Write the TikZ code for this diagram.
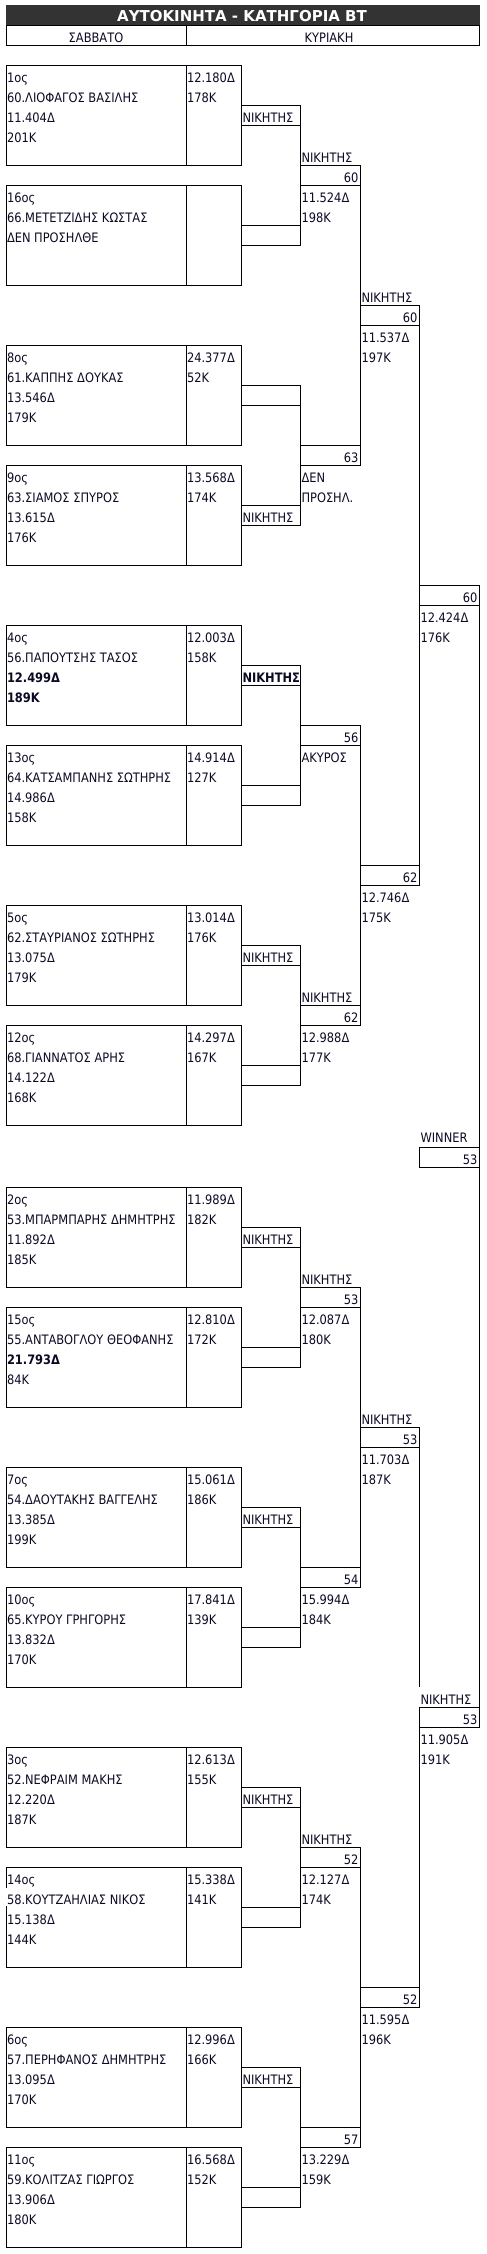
\documentclass[tikz,border=0pt]{standalone}
\usepackage{fontspec}
\setmainfont{DejaVu Sans}[FakeStretch=0.88]
\newfontfamily\titlefont{DejaVu Sans}
\definecolor{tc}{RGB}{10,10,35}
\definecolor{bar}{RGB}{51,51,51}
\tikzset{
  ln/.style={line width=1pt, draw=black},
  cell/.style={draw=black, line width=1pt, inner sep=0pt, outer sep=0pt, minimum height=20pt, anchor=north west},
  boxr/.style={draw=black, line width=1pt, inner sep=0pt, outer sep=0pt, minimum width=235pt, minimum height=100pt, anchor=north west},
  txt/.style={font=\fontsize{13}{15}\selectfont, text=tc, inner sep=0pt, outer sep=0pt, anchor=base west},
  txtr/.style={txt, anchor=base east},
  txtc/.style={txt, anchor=base},
}
\newcommand\racer[8]{%
  \node[boxr] (#2) at (6,#1) {};
  \draw[ln] (186,#1) -- (186,#1+100);
  \node[txt] (#2-a) at (7,#1+17) {#3};
  \node[txt] (#2-b) at (7,#1+37) {#4};
  \node[txt] (#2-c) at (7,#1+57) {#5};
  \node[txt] (#2-d) at (7,#1+77) {#6};
  \node[txt] (#2-e) at (187,#1+17) {#7};
  \node[txt] (#2-f) at (187,#1+37) {#8};
}
\newcommand\duel[5]{%
  \node[cell,minimum width=59pt] (#1t) at (241,#2) {};
  \node[cell,minimum width=59pt] (#1b) at (241,#3) {};
  \draw[ln] (#1t.north east) -- (#1b.south east);
  \node[txt] (#1tl) at (242.5,#2+17) {#4};
  \node[txt] (#1bl) at (242.5,#3+17) {#5};
}
\newcommand\merge[7]{%
  \node[cell,minimum width=#3pt] (#1t) at (#2,#4) {};
  \node[cell,minimum width=#3pt] (#1b) at (#2,#5) {};
  \draw[ln] (#1t.north east) -- (#1b.south east);
  \node[txtr] (#1tn) at (#2+#3-1.5,#4+17) {#6};
  \node[txtr] (#1bn) at (#2+#3-1.5,#5+17) {#7};
}
\begin{document}
\begin{tikzpicture}[x=1pt,y=-1pt]
\useasboundingbox (0,0) rectangle (487,2254);
% title and header
\node[cell, fill=bar, draw=bar, minimum width=473pt] (title) at (6,5) {};
\node[font=\titlefont\bfseries\fontsize{15}{17}\selectfont, text=white, inner sep=0pt, anchor=base] (titletext) at (242,21.5) {ΑΥΤΟΚΙΝΗΤΑ - ΚΑΤΗΓΟΡΙΑ ΒΤ};
\node[cell, minimum width=180pt] (sat) at (6,25) {};
\node[cell, minimum width=293pt] (sun) at (186,25) {};
\node[txtc] (satl) at (96,42) {ΣΑΒΒΑΤΟ};
\node[txtc] (sunl) at (329,42) {ΚΥΡΙΑΚΗ};

% racers
\racer{65}{b1}{1ος}{60.ΛΙΟΦΑΓΟΣ ΒΑΣΙΛΗΣ}{11.404Δ}{201Κ}{12.180Δ}{178Κ}
\racer{185}{b2}{16ος}{66.ΜΕΤΕΤΖΙΔΗΣ ΚΩΣΤΑΣ}{ΔΕΝ ΠΡΟΣΗΛΘΕ}{}{}{}
\racer{345}{b3}{8ος}{61.ΚΑΠΠΗΣ ΔΟΥΚΑΣ}{13.546Δ}{179Κ}{24.377Δ}{52Κ}
\racer{465}{b4}{9ος}{63.ΣΙΑΜΟΣ ΣΠΥΡΟΣ}{13.615Δ}{176Κ}{13.568Δ}{174Κ}
\racer{625}{b5}{4ος}{56.ΠΑΠΟΥΤΣΗΣ ΤΑΣΟΣ}{\textbf{12.499Δ}}{\textbf{189Κ}}{12.003Δ}{158Κ}
\racer{745}{b6}{13ος}{64.ΚΑΤΣΑΜΠΑΝΗΣ ΣΩΤΗΡΗΣ}{14.986Δ}{158Κ}{14.914Δ}{127Κ}
\racer{905}{b7}{5ος}{62.ΣΤΑΥΡΙΑΝΟΣ ΣΩΤΗΡΗΣ}{13.075Δ}{179Κ}{13.014Δ}{176Κ}
\racer{1025}{b8}{12ος}{68.ΓΙΑΝΝΑΤΟΣ ΑΡΗΣ}{14.122Δ}{168Κ}{14.297Δ}{167Κ}
\racer{1187}{b9}{2ος}{53.ΜΠΑΡΜΠΑΡΗΣ ΔΗΜΗΤΡΗΣ}{11.892Δ}{185Κ}{11.989Δ}{182Κ}
\racer{1307}{b10}{15ος}{55.ΑΝΤΑΒΟΓΛΟΥ ΘΕΟΦΑΝΗΣ}{\textbf{21.793Δ}}{84Κ}{12.810Δ}{172Κ}
\racer{1467}{b11}{7ος}{54.ΔΑΟΥΤΑΚΗΣ ΒΑΓΓΕΛΗΣ}{13.385Δ}{199Κ}{15.061Δ}{186Κ}
\racer{1587}{b12}{10ος}{65.ΚΥΡΟΥ ΓΡΗΓΟΡΗΣ}{13.832Δ}{170Κ}{17.841Δ}{139Κ}
\racer{1747}{b13}{3ος}{52.ΝΕΦΡΑΙΜ ΜΑΚΗΣ}{12.220Δ}{187Κ}{12.613Δ}{155Κ}
\racer{1867}{b14}{14ος}{58.ΚΟΥΤΖΑΗΛΙΑΣ ΝΙΚΟΣ}{15.138Δ}{144Κ}{15.338Δ}{141Κ}
\racer{2027}{b15}{6ος}{57.ΠΕΡΗΦΑΝΟΣ ΔΗΜΗΤΡΗΣ}{13.095Δ}{170Κ}{12.996Δ}{166Κ}
\racer{2147}{b16}{11ος}{59.ΚΟΛΙΤΖΑΣ ΓΙΩΡΓΟΣ}{13.906Δ}{180Κ}{16.568Δ}{152Κ}
\draw[white, line width=1.2pt] (6,1888) -- (6,1906);

% first round (column 3)
\duel{p1}{105}{225}{ΝΙΚΗΤΗΣ}{}
\duel{p2}{385}{505}{}{ΝΙΚΗΤΗΣ}
\duel{p3}{665}{785}{\textbf{ΝΙΚΗΤΗΣ}}{}
\duel{p4}{945}{1065}{ΝΙΚΗΤΗΣ}{}
\duel{p5}{1227}{1347}{ΝΙΚΗΤΗΣ}{}
\duel{p6}{1507}{1627}{ΝΙΚΗΤΗΣ}{}
\duel{p7}{1787}{1907}{ΝΙΚΗΤΗΣ}{}
\duel{p8}{2067}{2187}{ΝΙΚΗΤΗΣ}{}

% second round (column 4)
\merge{q1}{300}{60}{165}{445}{60}{63}
\merge{q2}{300}{60}{725}{1005}{56}{62}
\merge{q3}{300}{60}{1287}{1567}{53}{54}
\merge{q4}{300}{60}{1847}{2127}{52}{57}
\node[txt] (q1w) at (301.5,162) {ΝΙΚΗΤΗΣ};
\node[txt] (q1a) at (301.5,202) {11.524Δ};
\node[txt] (q1b) at (301.5,222) {198Κ};
\node[txt] (q1c) at (301.5,482) {ΔΕΝ};
\node[txt] (q1d) at (301.5,502) {ΠΡΟΣΗΛ.};
\node[txt] (q2a) at (301.5,762) {ΑΚΥΡΟΣ};
\node[txt] (q2w) at (301.5,1002) {ΝΙΚΗΤΗΣ};
\node[txt] (q2c) at (301.5,1042) {12.988Δ};
\node[txt] (q2d) at (301.5,1062) {177Κ};
\node[txt] (q3w) at (301.5,1284) {ΝΙΚΗΤΗΣ};
\node[txt] (q3a) at (301.5,1324) {12.087Δ};
\node[txt] (q3b) at (301.5,1344) {180Κ};
\node[txt] (q3c) at (301.5,1604) {15.994Δ};
\node[txt] (q3d) at (301.5,1624) {184Κ};
\node[txt] (q4w) at (301.5,1844) {ΝΙΚΗΤΗΣ};
\node[txt] (q4a) at (301.5,1884) {12.127Δ};
\node[txt] (q4b) at (301.5,1904) {174Κ};
\node[txt] (q4c) at (301.5,2164) {13.229Δ};
\node[txt] (q4d) at (301.5,2184) {159Κ};

% semi finals (column 5)
\merge{h1}{360}{59}{305}{865}{60}{62}
\node[txt] (h1w) at (361.5,302) {ΝΙΚΗΤΗΣ};
\node[txt] (h1a) at (361.5,342) {11.537Δ};
\node[txt] (h1b) at (361.5,362) {197Κ};
\node[txt] (h1c) at (361.5,902) {12.746Δ};
\node[txt] (h1d) at (361.5,922) {175Κ};
\node[cell,minimum width=59pt] (h2t) at (360,1427) {};
\node[cell,minimum width=59pt] (h2b) at (360,1987) {};
\coordinate (h2gapa) at (419,1687);
\coordinate (h2gapb) at (419,1707);
\draw[ln] (h2t.north east) -- (h2gapa);
\draw[ln] (h2gapb) -- (h2b.south east);
\node[txtr] (h2tn) at (417.5,1444) {53};
\node[txtr] (h2bn) at (417.5,2004) {52};
\node[txt] (h2w) at (361.5,1424) {ΝΙΚΗΤΗΣ};
\node[txt] (h2a) at (361.5,1464) {11.703Δ};
\node[txt] (h2b1) at (361.5,1484) {187Κ};
\node[txt] (h2c) at (361.5,2024) {11.595Δ};
\node[txt] (h2d) at (361.5,2044) {196Κ};

% final (column 6)
\merge{f}{419}{60}{585}{1707}{60}{53}
\node[txt] (fa) at (420.5,622) {12.424Δ};
\node[txt] (fb) at (420.5,642) {176Κ};
\node[txt] (fw) at (420.5,1704) {ΝΙΚΗΤΗΣ};
\node[txt] (fc) at (420.5,1744) {11.905Δ};
\node[txt] (fd) at (420.5,1764) {191Κ};

% winner
\node[txt] (winl) at (420.5,1142.5) {WINNER};
\node[cell,minimum width=60pt] (win) at (419,1147) {};
\node[txtr] (winn) at (477.5,1164) {53};
\end{tikzpicture}
\end{document}
